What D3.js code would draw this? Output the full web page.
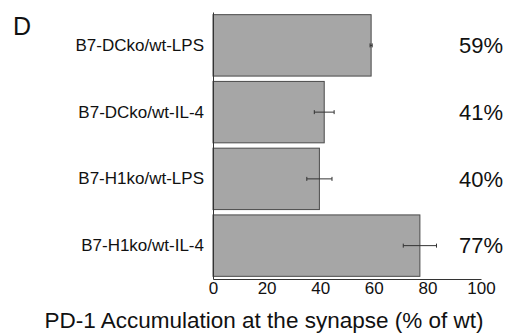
<!DOCTYPE html>
<html>
<head>
<meta charset="utf-8">
<script src="https://cdn.jsdelivr.net/npm/d3@7"></script>
<style>
  body { margin: 0; background: #fff; }
  svg { display: block; font-family: "Liberation Sans", Arial, sans-serif; }
  .axis path { stroke: #333; }
  .axis text { fill: #111; }
</style>
</head>
<body>
<div id="graphic"></div>
<script>
// data
const categories = ['B7-DCko/wt-LPS', 'B7-DCko/wt-IL-4', 'B7-H1ko/wt-LPS', 'B7-H1ko/wt-IL-4'];
const values = [59, 41.5, 39.7, 77.2];
const errors = [0.4, 3.7, 4.7, 6.2];
const valueLabels = ['59%', '41%', '40%', '77%'];
const xTicks = [0, 20, 40, 60, 80, 100];

const width = 508;
const height = 333;

const svg = d3.select('#graphic').append('svg')
  .attr('width', width)
  .attr('height', height);

const x = d3.scaleLinear()
  .domain([0, 100])
  .range([213, 481]);

const y = d3.scaleBand()
  .domain(categories)
  .range([12, 279])
  .paddingInner(0.08)
  .paddingOuter(0.04);

// bars
svg.selectAll('.bar')
  .data(values)
  .enter().append('rect')
  .attr('class', 'bar')
  .attr('x', x(0))
  .attr('y', (d, i) => y(categories[i]))
  .attr('width', d => x(d) - x(0))
  .attr('height', y.bandwidth())
  .attr('fill', '#a6a6a6')
  .attr('stroke', '#4a4a4a')
  .attr('stroke-width', 1);

// error bars
const err = svg.selectAll('.err')
  .data(values)
  .enter().append('g')
  .attr('class', 'err')
  .attr('stroke', '#333')
  .attr('stroke-width', 1);

err.append('line')
  .attr('x1', (d, i) => x(d - errors[i]))
  .attr('x2', (d, i) => x(d + errors[i]))
  .attr('y1', (d, i) => y(categories[i]) + y.bandwidth() / 2)
  .attr('y2', (d, i) => y(categories[i]) + y.bandwidth() / 2);

[-1, 1].forEach(s => {
  err.append('line')
    .attr('x1', (d, i) => x(d + s * errors[i]))
    .attr('x2', (d, i) => x(d + s * errors[i]))
    .attr('y1', (d, i) => y(categories[i]) + y.bandwidth() / 2 - 2)
    .attr('y2', (d, i) => y(categories[i]) + y.bandwidth() / 2 + 2);
});

// axes
const xAxis = d3.axisBottom(x).tickValues(xTicks).tickSize(0).tickPadding(3);
svg.append('g')
  .attr('class', 'axis')
  .attr('transform', 'translate(0,' + 279 + ')')
  .call(xAxis)
  .call(g => g.selectAll('text').attr('font-size', 17));

const yAxis = d3.axisLeft(y).tickSize(0).tickPadding(9);
svg.append('g')
  .attr('class', 'axis')
  .attr('transform', 'translate(' + x(0) + ',0)')
  .call(yAxis)
  .call(g => g.selectAll('text').attr('font-size', 17));

svg.selectAll('.axis').attr('font-family', null);

// percent labels
svg.selectAll('.pct')
  .data(valueLabels)
  .enter().append('text')
  .attr('class', 'pct')
  .attr('x', 503)
  .attr('y', (d, i) => y(categories[i]) + y.bandwidth() / 2)
  .attr('dy', '0.35em')
  .attr('text-anchor', 'end')
  .attr('font-size', 22)
  .attr('fill', '#111')
  .text(d => d);

// axis title
svg.append('text')
  .attr('x', 264)
  .attr('y', 328)
  .attr('text-anchor', 'middle')
  .attr('font-size', 22.5)
  .attr('fill', '#111')
  .text('PD-1 Accumulation at the synapse (% of wt)');

// panel letter
svg.append('text')
  .attr('x', 13)
  .attr('y', 35)
  .attr('font-size', 25)
  .attr('fill', '#111')
  .text('D');
</script>
</body>
</html>
